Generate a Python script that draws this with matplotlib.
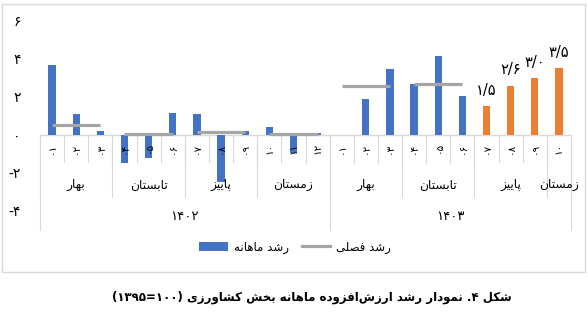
import re
import matplotlib
matplotlib.use('Agg')
import matplotlib.pyplot as plt
from matplotlib.patches import Rectangle, Patch
from matplotlib.lines import Line2D

plt.rcParams['font.family'] = ['DejaVu Sans']

# monthly growth (%), 1402 full year and first 10 months of 1403
monthly_1402 = [3.7, 1.1, 0.2, -1.45, -1.2, 1.15, 1.1, -2.45, 0.2, 0.4, -0.95, 0.1]
monthly_1403 = [0.0, 1.9, 3.45, 2.7, 4.15, 2.05, 1.5, 2.6, 3.0, 3.5]
# seasonal growth, one value per complete season
seasonal_1402 = [0.55, 0.05, 0.15, 0.05]
seasonal_1403 = [2.6, 2.7]
highlight_labels = ['۱/۵', '۲/۶', '۳/۰', '۳/۵']   # last four bars of 1403

month_labels_1402 = ['۰۱', '۰۲', '۰۳', '۰۴', '۰۵', '۰۶', '۰۷', '۰۸', '۰۹', '۱۰', '۱۱', '۱۲']
month_labels_1403 = ['۰۱', '۰۲', '۰۳', '۰۴', '۰۵', '۰۶', '۰۷', '۰۸', '۰۹', '۱۰']
season_names = ['بهار', 'تابستان', 'پاییز', 'زمستان']
years = ['۱۴۰۲', '۱۴۰۳']
y_ticks = [-4, -2, 0, 2, 4, 6]
y_tick_labels = ['-۴', '-۲', '۰', '۲', '۴', '۶']

legend_monthly = 'رشد ماهانه'
legend_seasonal = 'رشد فصلی'
caption = 'شکل ۴. نمودار رشد ارزش\u200cافزوده ماهانه بخش کشاورزی (۱۰۰=۱۳۹۵)'

BLUE = '#4472C4'
ORANGE = '#ED7D31'
GREY = '#A5A5A5'
SEP = '#D9D9D9'

# isolated, final, initial, medial presentation forms
FORMS = {
    'ا': ('\uFE8D', '\uFE8E', None, None),
    'ب': ('\uFE8F', '\uFE90', '\uFE91', '\uFE92'),
    'پ': ('\uFB56', '\uFB57', '\uFB58', '\uFB59'),
    'ت': ('\uFE95', '\uFE96', '\uFE97', '\uFE98'),
    'خ': ('\uFEA5', '\uFEA6', '\uFEA7', '\uFEA8'),
    'د': ('\uFEA9', '\uFEAA', None, None),
    'ر': ('\uFEAD', '\uFEAE', None, None),
    'ز': ('\uFEAF', '\uFEB0', None, None),
    'س': ('\uFEB1', '\uFEB2', '\uFEB3', '\uFEB4'),
    'ش': ('\uFEB5', '\uFEB6', '\uFEB7', '\uFEB8'),
    'ص': ('\uFEB9', '\uFEBA', '\uFEBB', '\uFEBC'),
    'ف': ('\uFED1', '\uFED2', '\uFED3', '\uFED4'),
    'ک': ('\uFB8E', '\uFB8F', '\uFB90', '\uFB91'),
    'ل': ('\uFEDD', '\uFEDE', '\uFEDF', '\uFEE0'),
    'م': ('\uFEE1', '\uFEE2', '\uFEE3', '\uFEE4'),
    'ن': ('\uFEE5', '\uFEE6', '\uFEE7', '\uFEE8'),
    'ه': ('\uFEE9', '\uFEEA', '\uFEEB', '\uFEEC'),
    'و': ('\uFEED', '\uFEEE', None, None),
    'ی': ('\uFBFC', '\uFBFD', '\uFBFE', '\uFBFF'),
}


def fa(text):
    # crude shaping + right-to-left ordering, matplotlib has no bidi support
    out = []
    for i, c in enumerate(text):
        if c not in FORMS:
            out.append(c)
            continue
        prev = text[i - 1] if i > 0 else None
        nxt = text[i + 1] if i + 1 < len(text) else None
        join_prev = prev in FORMS and FORMS[prev][2] is not None
        join_next = nxt in FORMS and FORMS[c][2] is not None
        iso, fin, ini, med = FORMS[c]
        if join_prev and join_next:
            out.append(med)
        elif join_prev:
            out.append(fin)
        elif join_next:
            out.append(ini)
        else:
            out.append(iso)
    s = ''.join(out).replace('\u200c', '')[::-1]
    s = s.translate(str.maketrans('()', ')('))
    return re.sub('[۰-۹]+', lambda m: m.group()[::-1], s)


W, H = 588, 313
fig = plt.figure(figsize=(W / 100, H / 100), dpi=100)
fig.patches.append(Rectangle((2 / W, 1 - 272 / H), 583 / W, 268 / H, transform=fig.transFigure,
                             fill=False, edgecolor=SEP, lw=1))

ax = fig.add_axes([40 / W, 0.326, 531 / W, 0.607])

values = monthly_1402 + monthly_1403
n = len(values)
xs = list(range(n))
colors = [BLUE] * (n - len(highlight_labels)) + [ORANGE] * len(highlight_labels)
bars = ax.bar(xs, values, width=0.3, color=colors, zorder=2)

for bar, lab in zip(bars[-len(highlight_labels):], highlight_labels):
    ax.annotate(lab, (bar.get_x() + bar.get_width() / 2, bar.get_height()),
                xytext=(0, 6), textcoords='offset points', ha='center', va='bottom',
                fontsize=10.5, color='#000000')

# seasonal lines across the three months of each complete season
for start, seas in [(0, seasonal_1402), (12, seasonal_1403)]:
    for k, v in enumerate(seas):
        x0 = start + 3 * k
        ax.plot([x0, x0 + 2], [v, v], color=GREY, lw=2.3, zorder=3, solid_capstyle='butt')

ax.set_xlim(-0.5, n - 0.5)
ax.set_ylim(-4, 6)
ax.axhline(0, color=SEP, lw=1, zorder=1)

for s in ax.spines.values():
    s.set_visible(False)
ax.set_xticks([])
ax.set_yticks(y_ticks)
ax.set_yticklabels(y_tick_labels, fontsize=10)
ax.tick_params(axis='y', length=0, pad=14)

# multi-level category axis
month_bottom, season_bottom, year_bottom = -1.42, -3.26, -5.0
month_labels = month_labels_1402 + month_labels_1403
for x, lab in zip(xs, month_labels):
    ax.text(x, -0.68, lab, rotation=90, ha='center', va='center', fontsize=7.5, zorder=4)

for k in range(1, n):
    ax.plot([k - 0.5, k - 0.5], [0, month_bottom], color=SEP, lw=0.8, clip_on=False)

season_edges = [-0.5, 2.5, 5.5, 8.5, 11.5, 14.5, 17.5, 20.5, 21.5]
for e in season_edges:
    ax.plot([e, e], [0, season_bottom], color=SEP, lw=0.8, clip_on=False)
for e in [-0.5, 11.5, n - 0.5]:
    ax.plot([e, e], [0, year_bottom], color=SEP, lw=0.8, clip_on=False)

for i in range(len(season_edges) - 1):
    cx = (season_edges[i] + season_edges[i + 1]) / 2
    ax.text(cx, -2.63, fa(season_names[i % 4]), ha='center', va='center', fontsize=8.8, clip_on=False)

ax.text(5.5, -4.3, years[0], ha='center', va='center', fontsize=9.5, clip_on=False)
ax.text(16.5, -4.3, years[1], ha='center', va='center', fontsize=9.5, clip_on=False)

handles = [Patch(facecolor=BLUE), Line2D([], [], color=GREY, lw=2.3)]
fig.legend(handles, [fa(legend_monthly), fa(legend_seasonal)], loc='center',
           bbox_to_anchor=(295 / W, 1 - 247 / H), ncol=2, frameon=False, fontsize=8.5,
           handlelength=2.4, handleheight=0.8, columnspacing=1.1, handletextpad=0.5)

fig.text(312 / W, 1 - 297 / H, fa(caption), ha='center', va='center', fontsize=8.5, fontweight='bold')

fig.savefig('out.png', dpi=100)
